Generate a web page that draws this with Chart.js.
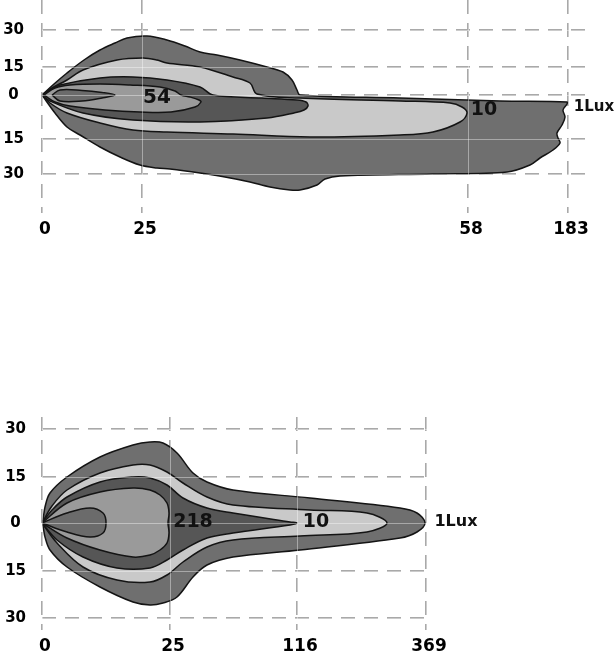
<!DOCTYPE html>
<html>
<head>
<meta charset="utf-8">
<script src="https://cdn.jsdelivr.net/npm/chart.js@4.4.1/dist/chart.umd.min.js"></script>
<style>
  html, body { margin: 0; padding: 0; background: #fff; overflow: hidden; }
  #page { position: relative; width: 616px; height: 658px; overflow: hidden; }
  canvas { position: absolute; left: 0; }
  #top-chart { top: -32px; }
  #bottom-chart { top: 385px; }
</style>
</head>
<body>
<div id="page">
  <canvas id="top-chart" width="616" height="292"></canvas>
  <canvas id="bottom-chart" width="616" height="292"></canvas>
</div>
<script>
// axis units: distance along the plot from the lamp (x) and across it (y)
const topXTicks = [0, 100, 426, 526];
const topXLabels = ['0', '25', '58', '183'];
const topYTicks = [-79, -44, 0, 28, 65];
const topYLabels = ['30', '15', '0', '15', '30'];

const topOuter = [[0,0],[12,11],[25,22],[42,35],[58,45],[73,52],[85,57],[105,59],[125,55],[143,49],[158,43],[175,40],[198,35],[225,28],[241,23],[250,15],[255,5],[258,0],[358,-3],[458,-6],[525,-7],[525,-9],[521,-15],[523,-22],[520,-30],[515,-38],[516,-43],[518,-48],[511,-55],[498,-63],[488,-70],[465,-77],[391,-79],[298,-81],[283,-84],[275,-90],[258,-95],[248,-95],[228,-92],[208,-87],[183,-82],[158,-78],[128,-74],[115,-73],[98,-70],[78,-62],[58,-52],[38,-40],[25,-32],[13,-18],[0,0]];
const topBand = [[0,0],[10,7],[25,15],[41,25],[75,35],[101,37],[115,35],[125,32],[158,28],[191,18],[208,12],[215,1],[258,-3],[358,-6],[408,-8],[420,-12],[425,-18],[418,-27],[391,-37],[358,-40],[268,-42],[191,-39],[125,-37],[91,-35],[58,-28],[25,-18],[8,-8],[0,0]];
const topDark = [[0,0],[8,5],[18,10],[58,17],[91,18],[125,15],[158,8],[171,0],[220,-3],[255,-5],[264,-7],[266,-11],[262,-15],[252,-18],[225,-23],[158,-27],[91,-25],[41,-18],[8,-6],[0,0]];
const topCore = [[2,0],[13,7],[28,10],[58,11],[88,10],[118,8],[133,4],[139,0],[148,-2],[157,-5],[159,-7],[153,-12],[129,-17],[98,-17],[63,-15],[28,-11],[13,-7],[2,0]];
const topInner = [[10,0],[18,5],[40,4.5],[60,2.5],[73,0],[60,-3],[40,-6],[18,-6],[10,0]];
const topNotes = [
  { text: '54', x: 115, y: -3 },
  { text: '10', x: 442, y: -15.5 },
  { text: '1Lux', x: 552, y: -12.5 }
];

const bottomXTicks = [0, 128, 255, 384];
const bottomXLabels = ['0', '25', '116', '369'];
const bottomYTicks = [-95, -48, 0, 46, 94];
const bottomYLabels = ['30', '15', '0', '15', '30'];

const bottomOuter = [[0,0],[1,3],[3,16],[8,30],[25,46],[58,66],[91,78],[108,81],[121,80],[135,70],[151,50],[165,41],[191,33],[268,25],[358,15],[375,10],[383,0],[375,-9],[358,-15],[258,-27],[191,-34],[165,-42],[151,-54],[135,-74],[121,-80],[108,-82],[91,-79],[58,-64],[25,-44],[8,-27],[3,-14],[1,-3],[0,0]];
const bottomBand = [[0,0],[10,17],[25,33],[58,50],[91,58],[108,58],[125,51],[141,40],[165,26],[191,18],[268,13],[325,10],[345,0],[325,-9],[258,-13],[191,-17],[165,-24],[141,-39],[125,-52],[108,-59],[75,-57],[41,-44],[15,-20],[0,0]];
const bottomDark = [[0,0],[10,13],[25,26],[58,41],[91,46],[108,45],[125,38],[141,25],[165,15],[191,10],[248,1],[255,0],[248,-2],[191,-10],[165,-15],[141,-27],[125,-37],[108,-45],[75,-45],[41,-34],[15,-17],[0,0]];
const bottomCore = [[0,0],[25,20],[58,31],[91,35],[108,33],[118,28],[125,20],[127,10],[126,0],[127,-10],[125,-20],[118,-27],[108,-32],[91,-34],[58,-27],[25,-15],[0,0]];
const bottomInner = [[0,0],[25,10],[48,15],[61,10],[64,0],[61,-10],[48,-14],[25,-9],[0,0]];
const bottomNotes = [
  { text: '218', x: 151, y: 0.5 },
  { text: '10', x: 274, y: 1 },
  { text: '1Lux', x: 414, y: 1 }
];

const FONT = '"DejaVu Sans", Verdana, sans-serif';
const SHADES = ['#6f6f6f', '#c9c9c9', '#565656', '#9a9a9a', '#6b6b6b'];

function makeChart(id, o) {
  const datasets = o.shapes.map(function(pts, i) {
    return {
      data: pts.map(function(p) { return { x: p[0], y: p[1] }; }),
      showLine: true,
      fill: 'shape',
      backgroundColor: SHADES[i],
      borderColor: '#141414',
      borderWidth: 1.5,
      pointRadius: 0,
      tension: 0.35,
      order: o.shapes.length - i
    };
  });

  const notes = {
    id: 'notes',
    afterDraw: function(chart) {
      const ctx = chart.ctx, xs = chart.scales.x, ys = chart.scales.y;
      o.notes.forEach(function(n, i) {
        ctx.save();
        ctx.font = 'bold ' + o.noteSizes[i] + 'px ' + FONT;
        ctx.fillStyle = '#111';
        ctx.textAlign = 'center';
        ctx.textBaseline = 'middle';
        ctx.fillText(n.text, xs.getPixelForValue(n.x), ys.getPixelForValue(n.y));
        ctx.restore();
      });
    }
  };

  const setTicks = function(vals) {
    return function(scale) { scale.ticks = vals.map(function(v) { return { value: v }; }); };
  };
  const overlayGrid = { z: 1, color: 'rgba(255,255,255,0.4)', lineWidth: 1, drawTicks: false };

  return new Chart(document.getElementById(id), {
    type: 'scatter',
    data: { datasets: datasets },
    options: {
      responsive: false,
      animation: false,
      events: [],
      layout: { padding: { left: 0, top: 32, right: o.padRight, bottom: 17 } },
      plugins: { legend: { display: false }, tooltip: { enabled: false } },
      scales: {
        x: {
          type: 'linear', min: o.xMin, max: o.xMax,
          afterBuildTicks: setTicks(o.xTicks),
          afterFit: function(s) { s.height = 30; },
          ticks: {
            autoSkip: false, maxRotation: 0, padding: 6, labelOffset: 3,
            color: '#000', font: { family: FONT, weight: 'bold', size: 17 },
            callback: function(v, i) { return o.xLabels[i]; }
          },
          grid: { color: '#a9a9a9', lineWidth: 2, drawTicks: false },
          border: { display: false, dash: [14, 9] }
        },
        y: {
          type: 'linear', min: o.yMin, max: o.yMax,
          afterBuildTicks: setTicks(o.yTicks),
          afterFit: function(s) { s.width = 42; },
          ticks: {
            autoSkip: false, crossAlign: 'center', padding: o.yPad,
            color: '#000', font: { family: FONT, weight: 'bold', size: 15 },
            callback: function(v, i) { return o.yLabels[i]; }
          },
          grid: { color: '#a9a9a9', lineWidth: 2, drawTicks: false },
          border: { display: false, dash: [14, 9] }
        },
        x2: {
          type: 'linear', position: 'bottom', min: o.xMin, max: o.xMax,
          afterBuildTicks: setTicks(o.xTicks),
          ticks: { display: false }, grid: overlayGrid, border: { display: false }
        },
        y2: {
          type: 'linear', position: 'left', min: o.yMin, max: o.yMax,
          afterBuildTicks: setTicks(o.yTicks),
          ticks: { display: false }, grid: overlayGrid, border: { display: false }
        }
      }
    },
    plugins: [notes]
  });
}

makeChart('top-chart', {
  shapes: [topOuter, topBand, topDark, topCore, topInner],
  notes: topNotes, noteSizes: [20, 19, 15],
  xTicks: topXTicks, xLabels: topXLabels, xMin: 0, xMax: 546,
  yTicks: topYTicks, yLabels: topYLabels, yMin: -118, yMax: 95,
  yPad: 18, padRight: 28
});

makeChart('bottom-chart', {
  shapes: [bottomOuter, bottomBand, bottomDark, bottomCore, bottomInner],
  notes: bottomNotes, noteSizes: [19, 19, 16],
  xTicks: bottomXTicks, xLabels: bottomXLabels, xMin: 0, xMax: 391,
  yTicks: bottomYTicks, yLabels: bottomYLabels, yMin: -107, yMax: 106,
  yPad: 16, padRight: 183
});
</script>
</body>
</html>
